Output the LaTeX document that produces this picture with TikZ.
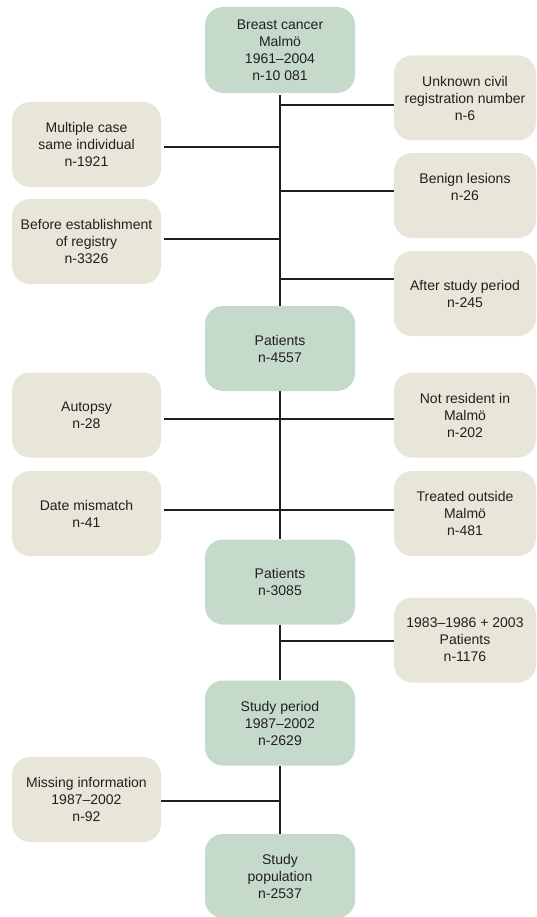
\documentclass[tikz,border=0pt]{standalone}
\usepackage{fontspec}
\setmainfont{Liberation Sans}
\definecolor{grn}{RGB}{197,218,203}
\definecolor{bge}{RGB}{232,229,217}
\definecolor{txt}{RGB}{35,31,32}
\begin{document}
\begin{tikzpicture}[x=1pt,y=-1pt,
  box/.style={rectangle, rounded corners=18pt, inner sep=0pt, align=center,
    font=\fontsize{14}{17}\selectfont, text=txt},
  mainbox/.style={box, fill=grn, minimum width=150pt, minimum height=85pt},
  leftbox/.style={box, fill=bge, minimum width=149pt, minimum height=85pt},
  rightbox/.style={box, fill=bge, minimum width=142pt, minimum height=85pt},
  link/.style={line width=1.8pt, draw=txt}]
\useasboundingbox (0,0) rectangle (537,917);

\node[mainbox, minimum height=86pt] (top) at (280,50) {Breast cancer\\Malmö\\1961–2004\\n-10 081};
\node[rightbox] (unk) at (465,98) {Unknown civil\\registration number\\n-6};
\node[leftbox] (mult) at (86.5,144.5) {Multiple case\\same individual\\n-1921};
\node[rightbox] (benign) at (465,195.5) {Benign lesions\\n-26\\\mbox{}};
\node[leftbox] (before) at (86.5,241.5) {Before establishment\\of registry\\n-3326};
\node[rightbox] (after) at (465,293.5) {After study period\\n-245};
\node[mainbox] (pat1) at (280,348.5) {Patients\\n-4557};
\node[leftbox] (autopsy) at (86.5,415) {Autopsy\\n-28};
\node[rightbox] (notres) at (465,415) {Not resident in\\Malmö\\n-202};
\node[leftbox] (date) at (86.5,513.5) {Date mismatch\\n-41};
\node[rightbox] (treated) at (465,513.5) {Treated outside\\Malmö\\n-481};
\node[mainbox] (pat2) at (280,582) {Patients\\n-3085};
\node[rightbox] (p83) at (465,640) {1983–1986 + 2003\\Patients\\n-1176};
\node[mainbox] (period) at (280,723) {Study period\\1987–2002\\n-2629};
\node[leftbox] (missing) at (86.5,799.5) {Missing information\\1987–2002\\n-92};
\node[mainbox, minimum height=84pt] (pop) at (280,876) {Study\\population\\n-2537};

% trunk
\draw[link, shorten <=2pt] (top.south) -- (pat1.north);
\draw[link] (pat1.south) -- (pat2.north);
\draw[link] (pat2.south) -- (period.north);
\draw[link] (period.south) -- (pop.north);

% branches
\draw[link] (top.south |- 0,105) -- (unk.west |- 0,105);
\draw[link, shorten <=3pt] (mult.east |- 0,147) -- (top.south |- 0,147);
\draw[link] (top.south |- 0,191) -- (benign.west |- 0,191);
\draw[link, shorten <=3pt] (before.east |- 0,239) -- (top.south |- 0,239);
\draw[link] (top.south |- 0,279) -- (after.west |- 0,279);
\draw[link, shorten <=3pt] (autopsy.east |- 0,419) -- (notres.west |- 0,419);
\draw[link, shorten <=3pt] (date.east |- 0,510) -- (treated.west |- 0,510);
\draw[link] (pat2.south |- 0,641) -- (p83.west |- 0,641);
\draw[link] (missing.east |- 0,801) -- (period.south |- 0,801);
\end{tikzpicture}
\end{document}
